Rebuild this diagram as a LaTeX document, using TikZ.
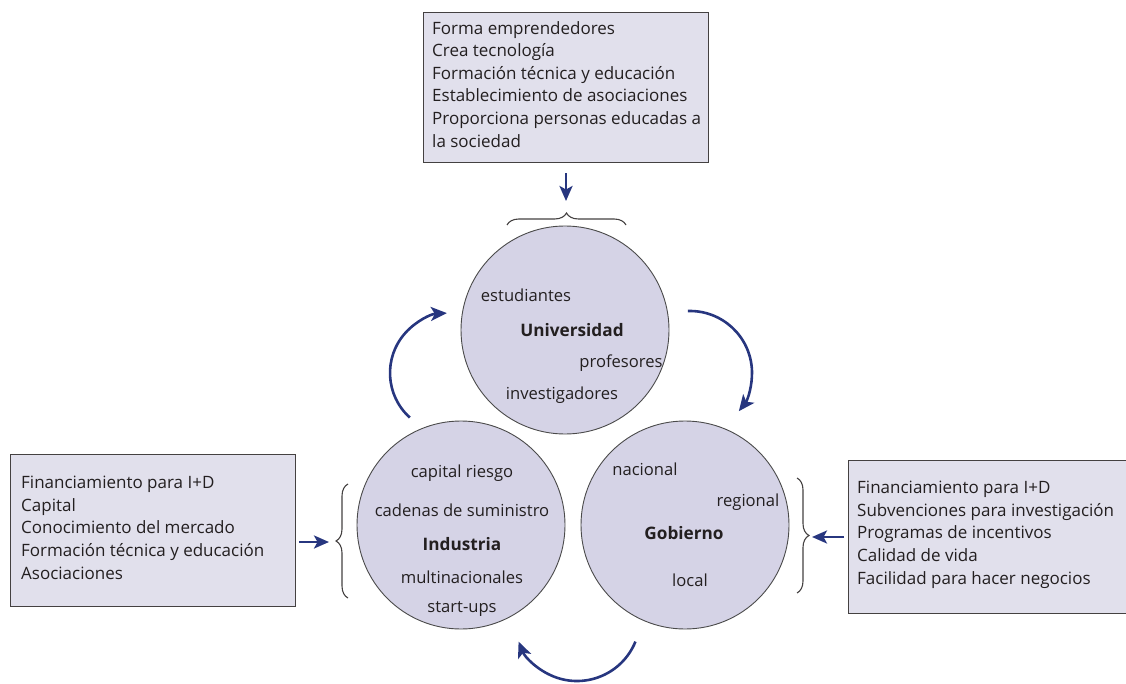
\documentclass[tikz,border=0pt]{standalone}
\usepackage{fontspec}
\setmainfont{Open Sans}
\usetikzlibrary{arrows.meta,decorations.pathreplacing}
\definecolor{ink}{HTML}{231F20}
\definecolor{navy}{HTML}{27367F}
\definecolor{circfill}{HTML}{D5D3E6}
\definecolor{boxfill}{HTML}{E1E0EC}
\definecolor{rim}{HTML}{4A4A4A}
\begin{document}
\begin{tikzpicture}[x=1pt,y=-1pt,
  actor/.style={circle,draw=rim,line width=0.9pt,fill=circfill,minimum size=208pt,inner sep=0pt},
  infobox/.style={draw=ink!85,line width=1.4pt,fill=boxfill,anchor=north west,inner sep=0pt},
  lines/.style={anchor=north west,align=left,inner sep=0pt,font=\fontsize{17}{22.6}\selectfont,text=ink},
  word/.style={inner sep=0pt,font=\fontsize{16.6}{20}\selectfont,text=ink},
  title/.style={word,font=\fontsize{17.2}{20}\selectfont\bfseries},
  flow/.style={draw=navy,line width=2.6pt,-{Stealth[length=16pt,width=14pt,inset=4pt]}},
  push/.style={draw=navy,line width=2.6pt,-{Stealth[length=15pt,width=13pt,inset=3.5pt]}},
  curly/.style={draw=ink!85,line width=1.1pt,decorate,decoration={brace,amplitude=12pt}}
]
\useasboundingbox (0,0) rectangle (1126,684);
\clip (0,0) rectangle (1126,684);

% the three actors
\node[actor] (uni) at (565,330) {};
\node[actor] (ind) at (461,525) {};
\node[actor] (gob) at (685,525) {};

% Universidad
\node[word]  (u1) at (526,295) {estudiantes};
\node[title] (u0) at (572,330) {Universidad};
\node[word]  (u2) at (621,363) {profesores};
\node[word]  (u3) at (562,395) {investigadores};

% Industria
\node[word]  (i1) at (462,473) {capital riesgo};
\node[word]  (i2) at (462,510) {cadenas de suministro};
\node[title] (i0) at (462,544) {Industria};
\node[word]  (i3) at (462,577) {multinacionales};
\node[word]  (i4) at (462,609) {start-ups};

% Gobierno
\node[word]  (g1) at (645,469) {nacional};
\node[word]  (g2) at (748,502) {regional};
\node[title] (g0) at (684,533) {Gobierno};
\node[word]  (g3) at (690,580) {local};

% contribution boxes
\node[infobox,minimum width=285pt,minimum height=150pt] (ubox) at (423,12) {};
\node[lines] (utext) at (432,21) {Forma emprendedores\\Crea tecnología\\Formación técnica y educación\\Establecimiento de asociaciones\\Proporciona personas educadas a\\la sociedad};

\node[infobox,minimum width=285pt,minimum height=152pt] (ibox) at (10,454) {};
\node[lines] (itext) at (21,476) {Financiamiento para I+D\\Capital\\Conocimiento del mercado\\Formación técnica y educación\\Asociaciones};

\node[infobox,minimum width=300pt,minimum height=153pt] (gbox) at (848,460) {};
\node[lines] (gtext) at (857,481) {Financiamiento para I+D\\Subvenciones para investigación\\Programas de incentivos\\Calidad de vida\\Facilidad para hacer negocios};

% braces grouping each actor
\coordinate (tb1) at (507,225);
\coordinate (tb2) at (626,225);
\draw[curly] (tb1) -- (tb2);
\coordinate (lb1) at (348,598);
\coordinate (lb2) at (348,484);
\draw[curly] (lb1) -- (lb2);
\coordinate (rb1) at (797,478);
\coordinate (rb2) at (797,593);
\draw[curly] (rb1) -- (rb2);

% inputs from the boxes
\coordinate (ta) at (566,201);
\draw[push] (ubox.south -| ta) ++(0,10) -- (ta);
\coordinate (la) at (329,542);
\draw[push] (ibox.east |- la) ++(3,0) -- (la);
\coordinate (ra) at (812,537);
\draw[push] (gbox.west |- ra) ++(-4,0) -- (ra);

% circulation between the actors
\coordinate (c1) at (450,373);
\coordinate (c2) at (690,373);
\coordinate (c3) at (577,618);
\draw[flow] (c1) ++(132:60) arc[start angle=132,end angle=267,radius=60];
\draw[flow] (c2) ++(-92:62) arc[start angle=-92,end angle=38,radius=62];
\draw[flow] (c3) ++(22:63) arc[start angle=22,end angle=158,radius=63];
\end{tikzpicture}
\end{document}
